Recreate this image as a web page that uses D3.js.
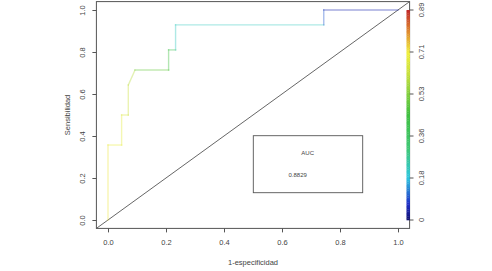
<!DOCTYPE html>
<html><head><meta charset="utf-8">
<script src="https://cdn.jsdelivr.net/npm/d3@7"></script>
<style>body{margin:0;background:#fff}svg{display:block}text{font-family:"Liberation Sans",Arial,sans-serif;fill:#444}</style>
</head><body><svg id="c" width="492" height="271"></svg>
<script>
// ROC curve points (1-especificidad, sensibilidad) and cutoff at each point
const fpr    = [0, 0, 0.047, 0.047, 0.070, 0.070, 0.093, 0.209, 0.209, 0.233, 0.233, 0.744, 0.744, 1.0];
const tpr    = [0, 0.357, 0.357, 0.500, 0.500, 0.643, 0.714, 0.714, 0.810, 0.810, 0.929, 0.929, 1.0, 1.0];
const cutoff = [0.72, 0.70, 0.68, 0.66, 0.63, 0.60, 0.50, 0.45, 0.40, 0.22, 0.22, 0.10, 0.05, 0];
const xTicks = [0, 0.2, 0.4, 0.6, 0.8, 1.0];
const yTicks = [0, 0.2, 0.4, 0.6, 0.8, 1.0];
const barLabels = ["0", "0.18", "0.36", "0.53", "0.71", "0.89"];
const aucValue = "0.8829";

const svg = d3.select("#c");
const x = d3.scaleLinear().domain([-0.04, 1.04]).range([96.4, 409.6]);
const y = d3.scaleLinear().domain([-0.04, 1.04]).range([228.4, 1.6]);
const col = d3.scaleLinear()
  .domain([0, 0.07, 0.18, 0.30, 0.45, 0.62, 0.71, 0.80, 0.89])
  .range(["#101070", "#2030c8", "#30c8e0", "#40c878", "#40c040", "#c8e040", "#f0f040", "#e08a30", "#c02828"]);

// box
svg.append("rect").attr("x", x(-0.04)).attr("y", y(1.04))
  .attr("width", x(1.04) - x(-0.04)).attr("height", y(-0.04) - y(1.04))
  .attr("fill", "none").attr("stroke", "#555").attr("stroke-width", 1);

// axes
const xa = svg.append("g").attr("transform", `translate(0,${y(-0.04)})`)
  .call(d3.axisBottom(x).tickValues(xTicks).tickFormat(d3.format(".1f")).tickSize(4).tickPadding(7));
xa.select(".domain").remove();
const ya = svg.append("g").attr("transform", `translate(${x(-0.04)},0)`)
  .call(d3.axisLeft(y).tickValues(yTicks).tickFormat("").tickSize(4));
ya.select(".domain").remove();
ya.selectAll(".tick").append("text")
  .attr("transform", "translate(-11,0) rotate(-90)")
  .attr("text-anchor", "middle").attr("fill", "#444")
  .text(d => d3.format(".1f")(d));
svg.selectAll(".tick line").attr("stroke", "#555");
svg.selectAll(".tick text").style("font-size", "7.5px").attr("fill", "#444");

// titles
svg.append("text").attr("x", (x(-0.04) + x(1.04)) / 2).attr("y", 265).attr("text-anchor", "middle")
  .style("font-size", "7.5px").text("1-especificidad");
svg.append("text").attr("transform", `translate(70,${(y(-0.04) + y(1.04)) / 2}) rotate(-90)`)
  .attr("text-anchor", "middle").style("font-size", "7.5px").text("Sensibilidad");

// diagonal
svg.append("line").attr("x1", x(-0.04)).attr("y1", y(-0.04)).attr("x2", x(1.04)).attr("y2", y(1.04))
  .attr("stroke", "#555").attr("stroke-width", 0.9);

// ROC curve segments coloured by cutoff
const pts = fpr.map((f, i) => ({f, t: tpr[i], c: cutoff[i]}));
svg.append("g").selectAll("line").data(d3.pairs(pts)).join("line")
  .attr("x1", d => x(d[0].f)).attr("y1", d => y(d[0].t))
  .attr("x2", d => x(d[1].f)).attr("y2", d => y(d[1].t))
  .attr("stroke", d => col(d[0].c)).attr("stroke-opacity", 0.4).attr("stroke-width", 1.4)
  .attr("stroke-linecap", "square");

// colour bar
const cmax = 0.89;
const cb = d3.scaleLinear().domain([0, cmax]).range([y(0), y(1)]);
const n = 120;
svg.append("g").selectAll("rect").data(d3.range(n)).join("rect")
  .attr("x", 406.5).attr("width", 3.5)
  .attr("y", i => cb((i + 1) * cmax / n)).attr("height", i => cb(i * cmax / n) - cb((i + 1) * cmax / n) + 0.3)
  .attr("fill", i => col((i + 0.5) * cmax / n));
const barPos = d3.scalePoint().domain(barLabels).range([y(0), y(1)]);
const bg = svg.append("g");
barLabels.forEach(l => {
  const py = barPos(l);
  bg.append("line").attr("x1", 409.6).attr("x2", 413.5).attr("y1", py).attr("y2", py).attr("stroke", "#555");
  bg.append("text").attr("transform", `translate(424,${py}) rotate(-90)`).attr("text-anchor", "middle")
    .style("font-size", "7.5px").text(l);
});

// AUC legend box
svg.append("rect").attr("x", 253.3).attr("y", 135.7).attr("width", 109.4).attr("height", 57)
  .attr("fill", "none").attr("stroke", "#555").attr("stroke-width", 0.9);
svg.append("text").attr("x", 307.7).attr("y", 155).attr("text-anchor", "middle").style("font-size", "6px").text("AUC");
svg.append("text").attr("x", 297.7).attr("y", 177).attr("text-anchor", "middle").style("font-size", "6px").text(aucValue);
</script></body></html>
